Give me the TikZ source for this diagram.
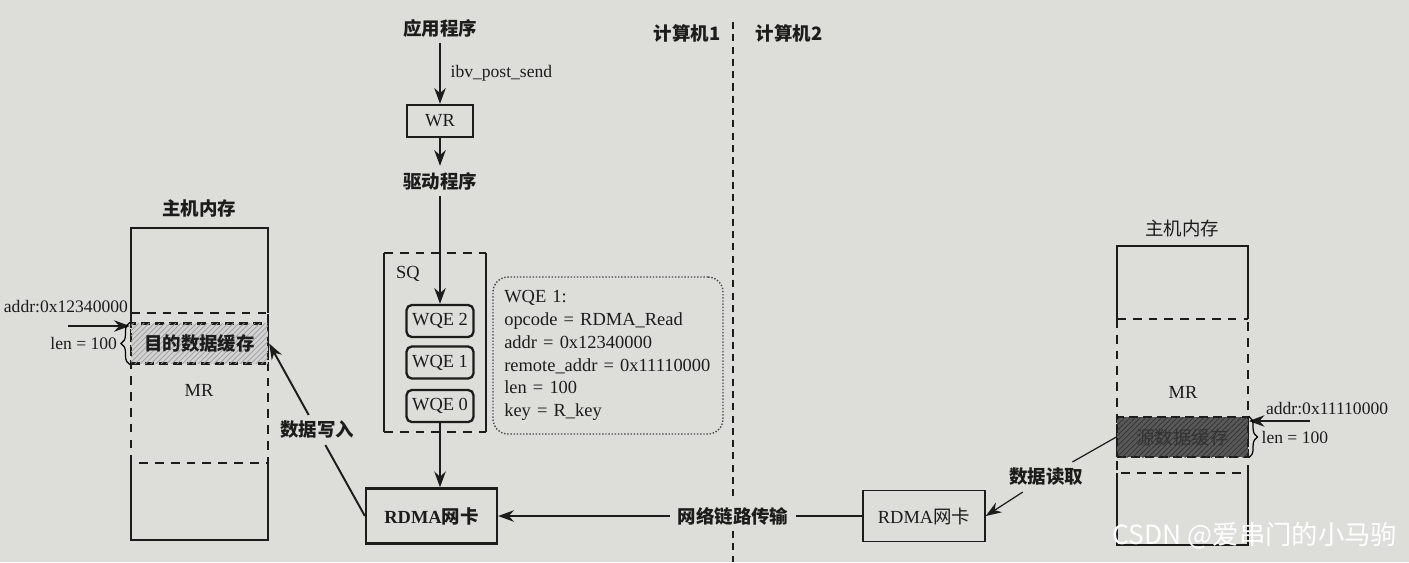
\documentclass[tikz,border=0pt]{standalone}
\usepackage{fontspec}
\setmainfont{Liberation Serif}
\newfontfamily\cjk{Noto Sans CJK SC}
\usetikzlibrary{arrows.meta, positioning, patterns, decorations.pathreplacing}
\definecolor{paper}{RGB}{221,221,218}
\definecolor{ink}{RGB}{28,28,28}
\newcommand{\zh}[1]{{\cjk #1}}

\begin{document}
\begin{tikzpicture}[
  x=0.02cm, y=-0.02cm,
  every node/.style = {font=\fontsize{10.5}{13}\selectfont, text=ink},
  box/.style        = {rectangle, draw=ink, line width=1.3pt, inner sep=2pt},
  wqe/.style        = {box, rounded corners=3pt, minimum width=1.34cm, minimum height=0.64cm},
  nic/.style        = {box, minimum width=2.62cm, minimum height=1.1cm},
  buffer/.style     = {rectangle, draw=ink, line width=1.3pt, dash pattern=on 5pt off 3pt,
                       minimum width=2.74cm, minimum height=0.8cm},
  frame/.style      = {draw=ink, line width=1.3pt},
  dashframe/.style  = {frame, dash pattern=on 5pt off 4pt},
  fineframe/.style  = {draw=ink, line width=0.8pt},
  finedash/.style   = {fineframe, dash pattern=on 5pt off 4pt},
  divider/.style    = {draw=ink, line width=1.4pt, dash pattern=on 4pt off 3pt},
  arrow/.style      = {line width=1.1pt, ->, >={Stealth[length=9pt, width=6.5pt]}, draw=ink},
  fine/.style       = {line width=0.7pt},
  note/.style       = {font=\fontsize{10}{12}\selectfont, inner sep=1pt},
  zhnote/.style     = {font=\cjk\bfseries\fontsize{10.5}{13}\selectfont},
  zhplain/.style    = {font=\cjk\fontsize{10.5}{13}\selectfont}
]
\fill[paper] (0,0) rectangle (1409,562);
\useasboundingbox (0,0) rectangle (1409,562);

% computer 1: host memory
\node[zhnote] (mem1) at (199,208) {主机内存};
\draw[frame] (131,313) -- (131,228) -- (268,228) -- (268,313);
\draw[dashframe] (131,313) -- (268,313);
\draw[dashframe] (131,313) -- (131,463) -- (268,463) -- (268,313);
\draw[frame] (131,463) -- (131,540) -- (268,540) -- (268,463);
\node[buffer, fill=gray!35, postaction={pattern=north east lines, pattern color=gray!75},
      font=\cjk\bfseries\fontsize{10.5}{13}\selectfont]
  (buf1) at (199.5,343.5) {目的数据缓存};
\node (mr1) at (199,390) {MR};
\coordinate (addr1tail) at (68,326);
\draw[arrow] (addr1tail) -- (addr1tail -| buf1.west);
\node[note, anchor=east] (addr1) at (130,307) {addr:0x12340000};
\draw[fine, decorate, decoration={brace, amplitude=5pt}] (buf1.south west) -- (buf1.north west)
  node[note, midway, left=6pt] (len1) {len = 100};

% application -> driver -> SQ
\node[zhnote] (app) at (440,28) {应用程序};
\node[box, minimum width=1.32cm, minimum height=0.64cm] (wr) at (440,121) {WR};
\node[zhnote] (drv) at (440,181) {驱动程序};
\draw[arrow] (app) -- (wr) node[note, midway, right=4.5pt] (post) {ibv\_post\_send};
\draw[arrow] (wr) -- (drv);

\draw[dashframe] (384,253) -- (486,253);
\draw[frame] (384,253) -- (384,432);
\draw[frame] (486,253) -- (486,432);
\draw[dashframe] (384,432) -- (486,432);
\node (sq) at (408,274) {SQ};

\node[wqe] (wqe2) at (440,321) {WQE 2};
\node[wqe] (wqe1) at (440,362.5) {WQE 1};
\node[wqe] (wqe0) at (440,406) {WQE 0};
\draw[arrow] (drv) -- (wqe2);

\node[draw=ink!80, line width=0.8pt, densely dotted, rounded corners=0.3cm,
      minimum width=4.6cm, minimum height=3.14cm, text width=4.15cm, align=left, inner xsep=0.22cm]
  (detail) at (608,355.5) {WQE 1:\\ opcode = RDMA\_Read\\ addr = 0x12340000\\
  remote\_addr = 0x11110000\\ len = 100\\ key = R\_key};

\node[nic, font=\bfseries\fontsize{10.5}{13}\selectfont] (nic1) at (431.5,516) {RDMA\zh{网卡}};
\draw[arrow] (wqe0.south) -- (wqe0.south |- nic1.north);
\node[zhnote] (wlabel) at (317,430) {数据写入};
\draw[arrow] (nic1.west) -- (wlabel) -- (buf1.east);

% boundary between the two computers
\node[zhnote] (pc1) at (687,33) {计算机1};
\node[zhnote] (pc2) at (789,33) {计算机2};
\node[zhnote, inner xsep=4pt] (link) at (733,516) {网络链路传输};
\coordinate (divtop) at (733,22);
\coordinate (divbot) at (733,562);
\draw[divider] (divtop) -- (link.north);
\draw[divider] (link.south) -- (divbot);

% computer 2
\node[nic, line width=0.8pt, minimum width=2.44cm, minimum height=1.02cm] (nic2) at (924,516) {RDMA\zh{网卡}};
\draw[arrow] (nic2) -- (link) -- (nic1);

\node[zhplain] (mem2) at (1182,228) {主机内存};
\draw[fineframe] (1117,319) -- (1117,246) -- (1248,246) -- (1248,319);
\draw[finedash] (1117,319) -- (1248,319);
\draw[finedash] (1117,319) -- (1117,473) -- (1248,473) -- (1248,319);
\draw[fineframe] (1117,473) -- (1117,545) -- (1248,545) -- (1248,473);
\node[buffer, line width=0.8pt, minimum width=2.62cm, fill=gray!70!black, text=black!80,
      postaction={pattern=north east lines, pattern color=black!80}]
  (buf2) at (1182.5,437) {\zh{源数据缓存}};
\node (mr2) at (1183,392) {MR};
\coordinate (addr2tail) at (1310,421);
\draw[arrow, line width=0.8pt] (addr2tail) -- (addr2tail -| buf2.east);
\node[note, anchor=west] (addr2) at (1264,409) {addr:0x11110000};
\draw[fine, decorate, decoration={brace, amplitude=5pt}] (buf2.north east) -- (buf2.south east)
  node[note, midway, right=6pt] (len2) {len = 100};
\node[zhnote] (rlabel) at (1046,477) {数据读取};
\draw[arrow, fine] (buf2.west) -- (rlabel) -- (nic2.east);

\node[font=\cjk\fontsize{15}{18}\selectfont, text=white] (mark) at (1255,536) {CSDN @爱串门的小马驹};
\end{tikzpicture}
\end{document}
